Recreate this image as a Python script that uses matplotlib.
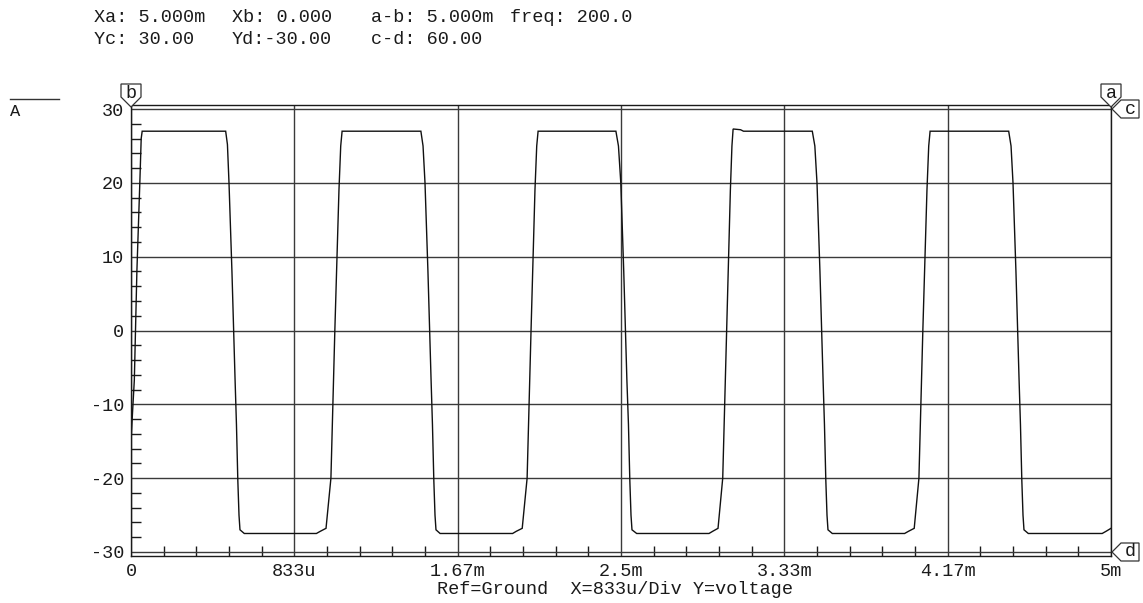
import numpy as np
import matplotlib
matplotlib.use("Agg")
import matplotlib.pyplot as plt
from matplotlib.patches import Polygon
from matplotlib.lines import Line2D

# waveform samples (time in ms, voltage)
t_ms = [
    0.000, 0.008, 0.017, 0.030, 0.045, 0.052, 0.057,
    0.483, 0.492, 0.500, 0.515, 0.531, 0.538, 0.545, 0.551, 0.556, 0.578,
    0.946, 0.966, 0.995, 1.020, 1.040, 1.061, 1.070, 1.077,
    1.479, 1.490, 1.500, 1.515, 1.531, 1.538, 1.545, 1.551, 1.556, 1.577,
    1.947, 1.966, 1.996, 2.021, 2.041, 2.061, 2.070, 2.077,
    2.474, 2.487, 2.499, 2.514, 2.530, 2.538, 2.545, 2.551, 2.556, 2.580,
    2.949, 2.968, 2.995, 3.019, 3.039, 3.058, 3.066, 3.072, 3.110, 3.125,
    3.476, 3.489, 3.500, 3.515, 3.531, 3.538, 3.545, 3.551, 3.556, 3.578,
    3.947, 3.967, 3.996, 4.020, 4.040, 4.061, 4.070, 4.077,
    4.478, 4.490, 4.500, 4.515, 4.531, 4.538, 4.545, 4.551, 4.556, 4.578,
    4.955, 4.975, 5.000,
]
volts = [
    -15.0, -11.0, -6.7, 8.0, 20.0, 26.0, 27.0,
    27.0, 25.2, 20.0, 8.0, -6.7, -12.7, -20.3, -25.0, -27.0, -27.5,
    -27.5, -27.2, -26.8, -20.0, 0.0, 19.0, 25.0, 27.0,
    27.0, 25.0, 20.0, 8.0, -6.7, -12.7, -20.3, -25.0, -27.0, -27.5,
    -27.5, -27.2, -26.8, -20.0, 0.0, 19.0, 25.0, 27.0,
    27.0, 25.0, 20.0, 8.0, -6.7, -12.7, -20.3, -25.0, -27.0, -27.5,
    -27.5, -27.2, -26.8, -20.0, 0.0, 19.0, 25.0, 27.3, 27.2, 27.0,
    27.0, 25.0, 20.0, 8.0, -6.7, -12.7, -20.3, -25.0, -27.0, -27.5,
    -27.5, -27.2, -26.8, -20.0, 0.0, 19.0, 25.0, 27.0,
    27.0, 25.0, 20.0, 8.0, -6.7, -12.7, -20.3, -25.0, -27.0, -27.5,
    -27.5, -27.2, -26.8,
]

x_div = 5.0 / 6.0          # 833u per division
x_labels = ["0", "833u", "1.67m", "2.5m", "3.33m", "4.17m", "5m"]
y_ticks = [-30, -20, -10, 0, 10, 20, 30]
y_labels = ["-30", "-20", "-10", "0", "10", "20", "30"]

hdr_row1 = [("Xa: 5.000m", 94), ("Xb: 0.000", 232), ("a-b: 5.000m", 371), ("freq: 200.0", 510)]
hdr_row2 = [("Yc: 30.00", 94), ("Yd:-30.00", 232), ("c-d: 60.00", 371)]
x_caption = "Ref=Ground  X=833u/Div Y=voltage"

W, H = 1143, 603
FONT = "Liberation Mono"
FS = 13.3
plt.rcParams["font.family"] = [FONT, "DejaVu Sans Mono"]


def fxy(x, y):
    """pixel (from top-left) -> figure fraction"""
    return x / W, 1 - y / H


fig = plt.figure(figsize=(W / 100, H / 100), dpi=100)
ax = fig.add_axes([131 / W, 47 / H, 980 / W, 451 / H])

ax.plot(t_ms, volts, color="#111111", lw=1.0, solid_joinstyle="miter")
ax.set_xlim(0, 5.0)
ax.set_ylim(-30.55, 30.55)

xt = np.arange(len(x_labels)) * x_div
ax.set_xticks(xt, x_labels)
ax.set_yticks(y_ticks, y_labels)
ax.set_xticks(np.arange(0, 5.0 + 1e-9, x_div / 5), minor=True)
ax.set_yticks(np.arange(-30, 31, 2), minor=True)
ax.tick_params(axis="both", which="major", length=0, labelsize=FS, colors="#1a1a1a")
ax.tick_params(axis="x", which="major", pad=5)
ax.tick_params(axis="y", which="major", pad=5)
ax.tick_params(axis="both", which="minor", direction="in", length=7, width=1.0,
               color="#1a1a1a")
ax.tick_params(axis="x", which="minor", top=False, bottom=True)
ax.tick_params(axis="y", which="minor", left=True, right=False)
ax.grid(True, which="major", color="#3a3a3a", lw=1.0)
for sp in ax.spines.values():
    sp.set_color("#1a1a1a")
    sp.set_linewidth(1.0)

# header readout
for txt, x in hdr_row1:
    fig.text(*fxy(x, 17), txt, fontsize=FS, va="center", ha="left", color="#1a1a1a")
for txt, x in hdr_row2:
    fig.text(*fxy(x, 40), txt, fontsize=FS, va="center", ha="left", color="#1a1a1a")

# caption under x axis
fig.text(*fxy(437, 589), x_caption, fontsize=FS, va="center", ha="left", color="#1a1a1a")

# trace legend key at far left
x0, y0 = fxy(10, 99)
x1, _ = fxy(59, 99)
fig.add_artist(Line2D([x0, x1], [y0, y0], color="#333333", lw=1.0))
fig.text(*fxy(10, 112), "A", fontsize=FS - 1, va="center", ha="left", color="#1a1a1a")


# cursor flags
def flag_down(xc, label):
    pts = [(xc - 10, 84), (xc + 10, 84), (xc + 10, 97), (xc, 107), (xc - 10, 97)]
    poly = Polygon([fxy(*p) for p in pts], closed=True, transform=fig.transFigure,
                   facecolor="white", edgecolor="#333333", lw=0.9)
    fig.add_artist(poly)
    fig.text(*fxy(xc, 93), label, fontsize=FS, ha="center", va="center", color="#1a1a1a")


def flag_left(yc, label):
    pts = [(1112, yc), (1121, yc - 9), (1139, yc - 9), (1139, yc + 9), (1121, yc + 9)]
    poly = Polygon([fxy(*p) for p in pts], closed=True, transform=fig.transFigure,
                   facecolor="white", edgecolor="#333333", lw=0.9)
    fig.add_artist(poly)
    fig.text(*fxy(1130, yc), label, fontsize=FS, ha="center", va="center",
             color="#1a1a1a")


flag_down(131, "b")
flag_down(1111, "a")
flag_left(109, "c")
flag_left(552, "d")

fig.savefig("out.png", dpi=100, facecolor="white")
